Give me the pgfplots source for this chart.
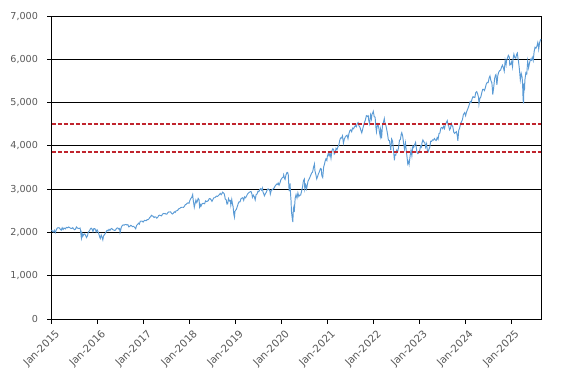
\documentclass[border=0pt]{standalone}
\usepackage{pgfplots}
\pgfplotsset{compat=1.18}
\usepackage{fontspec}
\setmainfont{DejaVu Sans}
\definecolor{spx}{HTML}{5B9BD5}
\definecolor{redl}{HTML}{C0242D}
\definecolor{lbl}{HTML}{595959}
\begin{document}
\begin{tikzpicture}
\path[use as bounding box] (-51.6pt,-64pt) rectangle (517.4pt,319pt);
\begin{axis}[
  scale only axis, width=489.4pt, height=303pt,
  xmin=2015, xmax=2025.65, ymin=0, ymax=7000,
  xtick={2015,2016,2017,2018,2019,2020,2021,2022,2023,2024,2025},
  xticklabels={Jan-2015,Jan-2016,Jan-2017,Jan-2018,Jan-2019,Jan-2020,Jan-2021,Jan-2022,Jan-2023,Jan-2024,Jan-2025},
  ytick={0,1000,...,7000},
  x tick label style={xshift=3pt, yshift=-4pt, rotate=45, anchor=north east, inner sep=1pt, font=\fontsize{10.3}{12}\selectfont},
  y tick label style={inner sep=2pt, xshift=-7pt, font=\fontsize{9.6}{11}\selectfont},
  /pgf/number format/.cd, 1000 sep={,}, assume math mode=true,
  /pgfplots/.cd,
  tick label style={text=lbl},
  tick align=outside, tick pos=left,
  major tick length=4.5pt,
  every tick/.style={black, line width=0.8pt},
  ymajorgrids, grid style={black, line width=0.8pt},
  axis line style={black, line width=0.9pt},
  clip=false,
]
\addplot[spx, line width=0.95pt] coordinates {
(2015.00,2058) (2015.02,2025) (2015.04,2012) (2015.06,2050) (2015.08,1995) (2015.10,2055) (2015.12,2096) (2015.14,2110) (2015.17,2104) (2015.19,2071) (2015.21,2053) (2015.23,2108) (2015.25,2067) (2015.27,2102) (2015.30,2081) (2015.32,2117) (2015.35,2108) (2015.37,2126) (2015.40,2107) (2015.42,2092) (2015.44,2094) (2015.46,2110) (2015.48,2080) (2015.50,2063) (2015.52,2077) (2015.54,2126) (2015.56,2103) (2015.58,2092) (2015.60,2091) (2015.62,2102) (2015.63,2035) (2015.645,1893) (2015.65,1867) (2015.66,1989) (2015.68,1914) (2015.70,1961) (2015.72,1966) (2015.74,1931) (2015.76,1882) (2015.78,1921) (2015.80,2014) (2015.82,2033) (2015.84,2075) (2015.86,2099) (2015.88,2081) (2015.90,2023) (2015.92,2089) (2015.94,2090) (2015.96,2049) (2015.97,2012) (2015.99,2060)
(2016.00,2044) (2016.02,1990) (2016.04,1922) (2016.05,1880) (2016.06,1859) (2016.07,1906) (2016.08,1940) (2016.10,1880) (2016.115,1829) (2016.13,1917) (2016.15,1948) (2016.17,1978) (2016.19,2022) (2016.21,2050) (2016.23,2037) (2016.25,2072) (2016.27,2048) (2016.29,2081) (2016.31,2091) (2016.33,2065) (2016.35,2057) (2016.37,2047) (2016.39,2052) (2016.41,2090) (2016.43,2105) (2016.45,2096) (2016.47,2071) (2016.48,2083) (2016.49,2000) (2016.50,2037) (2016.52,2130) (2016.54,2161) (2016.56,2175) (2016.58,2168) (2016.60,2182) (2016.62,2184) (2016.64,2172) (2016.66,2179) (2016.68,2128) (2016.70,2139) (2016.72,2164) (2016.74,2153) (2016.76,2133) (2016.78,2141) (2016.80,2126) (2016.83,2085) (2016.85,2164) (2016.87,2182) (2016.89,2213) (2016.91,2191) (2016.93,2259) (2016.95,2258) (2016.97,2263) (2016.99,2239)
(2017.02,2277) (2017.04,2275) (2017.06,2272) (2017.08,2295) (2017.10,2297) (2017.12,2316) (2017.14,2351) (2017.16,2365) (2017.17,2396) (2017.19,2383) (2017.21,2373) (2017.23,2344) (2017.25,2362) (2017.27,2355) (2017.29,2329) (2017.31,2349) (2017.33,2388) (2017.35,2399) (2017.37,2390) (2017.39,2382) (2017.41,2415) (2017.43,2439) (2017.45,2433) (2017.47,2438) (2017.49,2423) (2017.51,2425) (2017.53,2459) (2017.55,2473) (2017.57,2472) (2017.59,2476) (2017.61,2441) (2017.63,2426) (2017.65,2444) (2017.67,2477) (2017.69,2461) (2017.71,2500) (2017.73,2502) (2017.75,2519) (2017.77,2549) (2017.79,2553) (2017.81,2575) (2017.83,2581) (2017.85,2582) (2017.87,2579) (2017.89,2602) (2017.91,2642) (2017.93,2651) (2017.95,2675) (2017.97,2683) (2017.99,2674)
(2018.01,2743) (2018.03,2786) (2018.05,2810) (2018.07,2873) (2018.08,2762) (2018.10,2619) (2018.105,2581) (2018.12,2656) (2018.14,2747) (2018.16,2691) (2018.17,2720) (2018.19,2786) (2018.21,2752) (2018.22,2588) (2018.24,2640) (2018.25,2605) (2018.27,2656) (2018.29,2670) (2018.31,2670) (2018.33,2663) (2018.35,2728) (2018.37,2713) (2018.39,2721) (2018.41,2734) (2018.43,2779) (2018.45,2780) (2018.47,2755) (2018.49,2718) (2018.51,2759) (2018.53,2801) (2018.55,2802) (2018.57,2819) (2018.59,2840) (2018.61,2833) (2018.63,2850) (2018.65,2875) (2018.67,2902) (2018.69,2872) (2018.71,2904) (2018.72,2930) (2018.74,2914) (2018.76,2885) (2018.78,2768) (2018.80,2755) (2018.815,2656) (2018.83,2658) (2018.85,2781) (2018.87,2726) (2018.89,2737) (2018.90,2633) (2018.92,2760) (2018.94,2633) (2018.95,2600) (2018.965,2416) (2018.98,2351) (2018.99,2486)
(2019.00,2507) (2019.02,2532) (2019.04,2596) (2019.06,2664) (2019.08,2707) (2019.10,2707) (2019.12,2775) (2019.14,2793) (2019.16,2803) (2019.18,2743) (2019.20,2822) (2019.22,2801) (2019.24,2834) (2019.26,2880) (2019.28,2907) (2019.30,2926) (2019.32,2940) (2019.34,2945) (2019.36,2881) (2019.37,2812) (2019.39,2860) (2019.41,2826) (2019.43,2752) (2019.45,2873) (2019.47,2887) (2019.49,2950) (2019.51,2941) (2019.53,2990) (2019.55,3013) (2019.57,2976) (2019.59,3025) (2019.60,2932) (2019.62,2883) (2019.63,2847) (2019.65,2889) (2019.67,2926) (2019.69,2978) (2019.71,3007) (2019.73,2992) (2019.75,2961) (2019.76,2887) (2019.78,2970) (2019.80,2986) (2019.82,3006) (2019.84,3022) (2019.86,3066) (2019.88,3093) (2019.90,3120) (2019.92,3110) (2019.93,3141) (2019.95,3093) (2019.97,3145) (2019.99,3221)
(2020.00,3231) (2020.02,3265) (2020.04,3275) (2020.05,3330) (2020.07,3243) (2020.08,3225) (2020.10,3328) (2020.12,3380) (2020.135,3386) (2020.15,3337) (2020.16,3128) (2020.17,2954) (2020.19,3130) (2020.20,2882) (2020.21,2741) (2020.22,2480) (2020.23,2386) (2020.24,2305) (2020.25,2237) (2020.26,2541) (2020.27,2584) (2020.28,2470) (2020.30,2789) (2020.32,2874) (2020.34,2797) (2020.36,2913) (2020.38,2830) (2020.40,2864) (2020.42,2863) (2020.44,2955) (2020.46,3044) (2020.48,3193) (2020.50,3232) (2020.51,3002) (2020.53,3097) (2020.55,3009) (2020.57,3130) (2020.58,3185) (2020.60,3224) (2020.62,3271) (2020.64,3327) (2020.66,3373) (2020.68,3397) (2020.70,3508) (2020.72,3580) (2020.73,3427) (2020.75,3340) (2020.77,3237) (2020.79,3298) (2020.81,3363) (2020.83,3408) (2020.85,3477) (2020.87,3465) (2020.88,3310) (2020.90,3270) (2020.92,3510) (2020.94,3585) (2020.95,3638) (2020.97,3699) (2020.99,3663)
(2021.00,3756) (2021.02,3824) (2021.04,3768) (2021.06,3841) (2021.08,3714) (2021.10,3887) (2021.12,3934) (2021.14,3907) (2021.15,3811) (2021.17,3842) (2021.19,3943) (2021.21,3913) (2021.23,3974) (2021.25,4019) (2021.27,4128) (2021.29,4185) (2021.31,4180) (2021.33,4232) (2021.35,4063) (2021.37,4155) (2021.39,4204) (2021.41,4230) (2021.43,4247) (2021.45,4166) (2021.47,4281) (2021.49,4352) (2021.51,4369) (2021.53,4327) (2021.55,4411) (2021.57,4395) (2021.59,4437) (2021.61,4468) (2021.63,4441) (2021.65,4509) (2021.67,4537) (2021.69,4459) (2021.71,4432) (2021.73,4357) (2021.75,4300) (2021.77,4391) (2021.79,4471) (2021.81,4545) (2021.83,4605) (2021.85,4697) (2021.87,4682) (2021.89,4698) (2021.90,4594) (2021.92,4513) (2021.94,4712) (2021.96,4620) (2021.97,4725) (2021.99,4766)
(2022.00,4797) (2022.02,4677) (2022.04,4662) (2022.06,4398) (2022.07,4327) (2022.08,4432) (2022.10,4500) (2022.12,4419) (2022.13,4349) (2022.15,4225) (2022.16,4385) (2022.17,4328) (2022.18,4171) (2022.20,4463) (2022.22,4543) (2022.24,4631) (2022.25,4545) (2022.27,4488) (2022.29,4393) (2022.31,4271) (2022.33,4132) (2022.35,4123) (2022.37,4001) (2022.38,3900) (2022.40,4158) (2022.42,4109) (2022.44,3900) (2022.46,3667) (2022.47,3790) (2022.49,3785) (2022.51,3899) (2022.53,3863) (2022.55,3962) (2022.57,4130) (2022.59,4145) (2022.61,4280) (2022.62,4305) (2022.64,4228) (2022.66,4057) (2022.68,3924) (2022.70,4067) (2022.72,3873) (2022.74,3693) (2022.75,3586) (2022.77,3640) (2022.78,3577) (2022.80,3752) (2022.82,3901) (2022.84,3770) (2022.86,3993) (2022.88,3966) (2022.90,4027) (2022.92,4080) (2022.94,3934) (2022.95,3852) (2022.97,3822) (2022.99,3840)
(2023.01,3895) (2023.03,3999) (2023.05,3972) (2023.06,4070) (2023.08,4136) (2023.10,4090) (2023.12,4079) (2023.14,3970) (2023.16,4048) (2023.18,3862) (2023.19,3855) (2023.21,3917) (2023.23,3971) (2023.25,4109) (2023.27,4105) (2023.29,4138) (2023.31,4133) (2023.33,4169) (2023.35,4136) (2023.37,4124) (2023.39,4192) (2023.41,4151) (2023.43,4282) (2023.45,4298) (2023.47,4409) (2023.49,4425) (2023.51,4398) (2023.53,4450) (2023.55,4399) (2023.57,4505) (2023.59,4536) (2023.61,4582) (2023.63,4478) (2023.64,4464) (2023.66,4370) (2023.68,4405) (2023.70,4515) (2023.72,4457) (2023.73,4450) (2023.75,4320) (2023.77,4288) (2023.79,4308) (2023.81,4327) (2023.83,4224) (2023.84,4117) (2023.86,4358) (2023.88,4415) (2023.90,4514) (2023.92,4559) (2023.94,4604) (2023.96,4719) (2023.98,4754) (2023.99,4770)
(2024.01,4697) (2024.03,4783) (2024.05,4839) (2024.07,4890) (2024.09,4958) (2024.11,5026) (2024.13,5005) (2024.15,5088) (2024.17,5137) (2024.19,5123) (2024.21,5117) (2024.23,5234) (2024.25,5254) (2024.27,5204) (2024.29,5123) (2024.30,4967) (2024.32,5099) (2024.34,5128) (2024.36,5222) (2024.38,5303) (2024.40,5305) (2024.42,5278) (2024.44,5347) (2024.46,5432) (2024.48,5465) (2024.50,5460) (2024.52,5567) (2024.54,5615) (2024.56,5505) (2024.58,5459) (2024.59,5346) (2024.60,5186) (2024.62,5344) (2024.64,5554) (2024.66,5634) (2024.67,5648) (2024.69,5408) (2024.71,5626) (2024.73,5703) (2024.75,5738) (2024.77,5751) (2024.79,5815) (2024.81,5864) (2024.83,5808) (2024.85,5728) (2024.87,5973) (2024.89,5870) (2024.90,5969) (2024.92,6032) (2024.94,6090) (2024.96,6051) (2024.97,5867) (2024.99,5882)
(2025.01,5942) (2025.03,5827) (2025.04,6000) (2025.06,6118) (2025.08,6040) (2025.10,6026) (2025.12,6115) (2025.135,6144) (2025.15,6013) (2025.16,5955) (2025.18,5770) (2025.20,5522) (2025.22,5668) (2025.24,5581) (2025.25,5396) (2025.26,5074) (2025.27,4983) (2025.28,5457) (2025.29,5282) (2025.30,5525) (2025.32,5687) (2025.34,5660) (2025.36,5958) (2025.38,5803) (2025.40,5912) (2025.42,6000) (2025.44,5977) (2025.46,6045) (2025.48,5968) (2025.50,6173) (2025.52,6279) (2025.54,6259) (2025.56,6297) (2025.58,6389) (2025.59,6339) (2025.60,6238) (2025.62,6389) (2025.64,6449) (2025.65,6466)
};
\addplot[redl, line width=1.5pt, dash pattern=on 4pt off 2pt] coordinates {(2015,4500) (2025.65,4500)};
\addplot[redl, line width=1.5pt, dash pattern=on 4pt off 2pt] coordinates {(2015,3860) (2025.65,3860)};
\end{axis}
\end{tikzpicture}
\end{document}
